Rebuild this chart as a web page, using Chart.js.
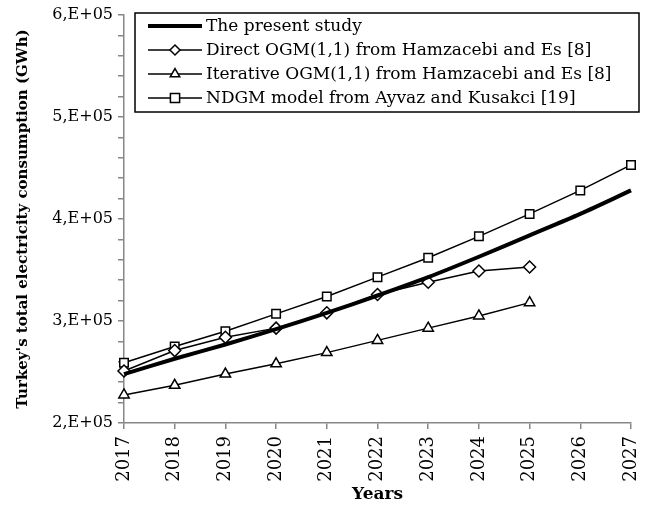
<!DOCTYPE html>
<html>
<head>
<meta charset="utf-8">
<script src="https://cdn.jsdelivr.net/npm/chart.js@4.4.1/dist/chart.umd.min.js"></script>
<style>
  html, body { margin: 0; padding: 0; background: #fff; }
  #wrap { width: 649px; height: 507px; position: relative; }
</style>
</head>
<body>
<div id="wrap"><canvas id="myChart"></canvas></div>
<script>
'use strict';

const years = ['2017', '2018', '2019', '2020', '2021', '2022', '2023', '2024', '2025', '2026', '2027'];
const presentStudy = [248000, 263000, 277000, 292000, 308000, 325000, 343000, 363000, 384000, 405000, 428000];
const directOgm = [251000, 271000, 284000, 293000, 308000, 326000, 338000, 349000, 353000, null, null];
const iterativeOgm = [227500, 237000, 248000, 258000, 269000, 281000, 293000, 305000, 318000, null, null];
const ndgmModel = [259000, 275000, 290000, 307000, 324000, 343000, 362000, 383000, 405000, 428000, 453000];
const seriesLabels = [
    'The present study',
    'Direct OGM(1,1) from Hamzacebi and Es [8]',
    'Iterative OGM(1,1) from Hamzacebi and Es [8]',
    'NDGM model from Ayvaz and Kusakci [19]'
];
const yTickLabels = {200000: '2,E+05', 300000: '3,E+05', 400000: '4,E+05', 500000: '5,E+05', 600000: '6,E+05'};

const serif = 'DejaVu Serif';
const axisGray = '#878787';

// legend in a bordered box inside the plot, like the Excel original
const boxLegend = {
    id: 'boxLegend',
    afterDraw(chart) {
        const ctx = chart.ctx;
        const x0 = 135, y0 = 13, w = 504, h = 99;
        const rowH = 24, firstRow = 26;
        const legendRadius = {rectRot: 5, triangle: 5.5, rect: 6.5};
        ctx.save();
        ctx.fillStyle = '#fff';
        ctx.fillRect(x0, y0, w, h);
        ctx.strokeStyle = '#000';
        ctx.lineWidth = 1.5;
        ctx.strokeRect(x0, y0, w, h);
        chart.data.datasets.forEach((ds, i) => {
            const y = firstRow + i * rowH;
            ctx.beginPath();
            ctx.strokeStyle = '#000';
            ctx.lineWidth = ds.borderWidth;
            ctx.moveTo(148, y);
            ctx.lineTo(202, y);
            ctx.stroke();
            if (ds.pointStyle) {
                ctx.fillStyle = '#fff';
                ctx.strokeStyle = '#000';
                ctx.lineWidth = 1.5;
                Chart.helpers.drawPoint(ctx, {pointStyle: ds.pointStyle, rotation: 0, radius: legendRadius[ds.pointStyle], borderWidth: 1.5}, 175, y);
            }
            ctx.fillStyle = '#000';
            ctx.font = '17px "' + serif + '"';
            ctx.textBaseline = 'middle';
            ctx.textAlign = 'left';
            ctx.fillText(ds.label, 206, y + 1);
        });
        ctx.restore();
    }
};

function series(label, data, width, style) {
    return {
        label: label,
        data: data,
        borderColor: '#000',
        borderWidth: width,
        backgroundColor: '#fff',
        pointStyle: style || false,
        pointRadius: style ? 6 : 0,
        pointBorderWidth: 1.5,
        pointBackgroundColor: '#fff',
        pointBorderColor: '#000',
        tension: style ? 0 : 0.3,
        spanGaps: false
    };
}

new Chart(document.getElementById('myChart').getContext('2d'), {
    type: 'line',
    data: {
        labels: years,
        datasets: [
            series(seriesLabels[0], presentStudy, 4),
            series(seriesLabels[1], directOgm, 1.5, 'rectRot'),
            series(seriesLabels[2], iterativeOgm, 1.5, 'triangle'),
            series(seriesLabels[3], ndgmModel, 1.5, 'rect')
        ]
    },
    options: {
        responsive: true,
        maintainAspectRatio: false,
        animation: false,
        layout: {
            padding: {top: 15, right: 18, left: 0, bottom: 0}
        },
        plugins: {
            legend: {display: false},
            tooltip: {enabled: false}
        },
        scales: {
            x: {
                offset: false,
                afterFit: (scale) => {
                    scale.height = 84;
                    scale.paddingLeft = 0;
                    scale.paddingRight = 0;
                },
                grid: {
                    display: true,
                    drawOnChartArea: false,
                    drawTicks: true,
                    tickLength: 6,
                    color: axisGray,
                    lineWidth: 1.5
                },
                border: {color: axisGray, width: 1.5},
                ticks: {
                    color: '#000',
                    minRotation: 90,
                    maxRotation: 90,
                    padding: 7,
                    font: {family: serif, size: 18}
                },
                title: {
                    display: true,
                    text: 'Years',
                    color: '#000',
                    padding: {top: 0, bottom: 2},
                    font: {family: serif, size: 17, weight: 'bold'}
                }
            },
            y: {
                min: 200000,
                max: 600000,
                afterFit: (scale) => { scale.width = 124; },
                grid: {
                    display: true,
                    drawOnChartArea: false,
                    drawTicks: true,
                    tickLength: 6,
                    color: axisGray,
                    lineWidth: 1.5
                },
                border: {color: axisGray, width: 1.5},
                ticks: {
                    stepSize: 20000,
                    autoSkip: false,
                    color: '#000',
                    padding: 5,
                    font: {family: serif, size: 16},
                    callback: (value) => yTickLabels[value] || ''
                },
                title: {
                    display: true,
                    text: "Turkey's total electricity consumption (GWh)",
                    color: '#000',
                    padding: {top: 14, bottom: 4},
                    font: {family: serif, size: 15, weight: 'bold'}
                }
            }
        }
    },
    plugins: [boxLegend]
});
</script>
</body>
</html>
